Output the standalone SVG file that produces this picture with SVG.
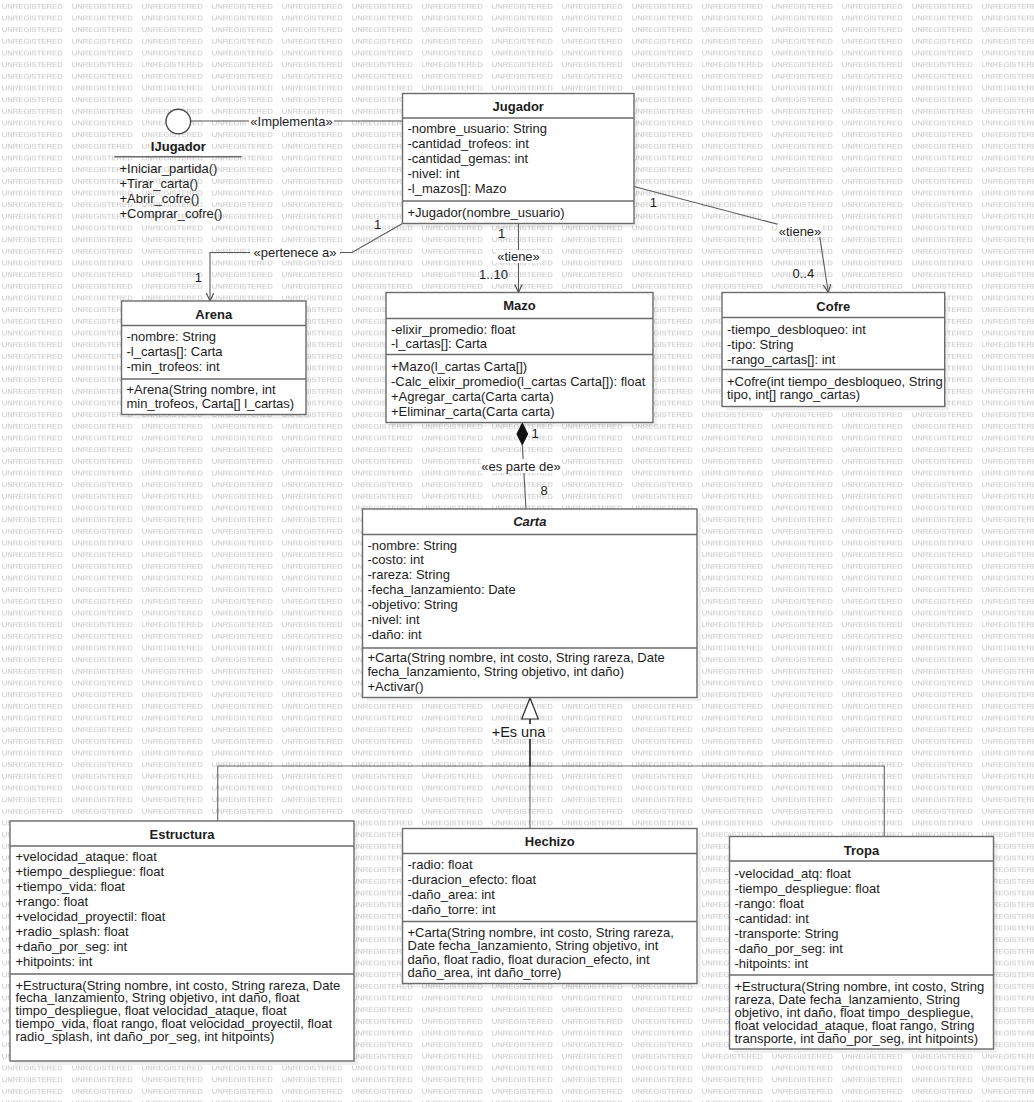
<svg xmlns="http://www.w3.org/2000/svg" width="1034" height="1102" viewBox="0 0 1034 1102">
  <style>
    .t { font-family: "Liberation Sans", Arial, sans-serif; font-size: 13px; fill: #1c1c1c; }
    .ttl { font-weight: bold; text-anchor: middle; }
    .ital { font-style: italic; }
    .mid { text-anchor: middle; }
    .box { fill: #ffffff; stroke: #6b6b6b; stroke-width: 1.4; }
    .shadow { fill: #000000; opacity: 0.06; }
    .sep { stroke: #6b6b6b; stroke-width: 1.4; }
    .wire { fill: none; stroke: #5a5a5a; stroke-width: 1.1; }
    .gen { fill: none; stroke: rgba(0,0,0,0.55); stroke-width: 1.2; }
    .bg { fill: #ffffff; }
    .wm { font-family: "Liberation Sans", Arial, sans-serif; font-size: 7.4px; fill: #c4c4c4; }
  </style>
  <defs>
    <pattern id="wmTile" x="0" y="0" width="70" height="11.667" patternUnits="userSpaceOnUse">
      <text class="wm" x="1.7" y="9.1" textLength="61" lengthAdjust="spacingAndGlyphs">UNREGISTERED</text>
    </pattern>
    <marker id="open" markerWidth="12" markerHeight="12" refX="8.5" refY="4" orient="auto" markerUnits="userSpaceOnUse">
      <path d="M0.5,0.3 L8.5,4 L0.5,7.7" fill="none" stroke="#4a4a4a" stroke-width="1.1"/>
    </marker>
  </defs>

  <!-- background -->
  <rect x="0" y="0" width="1034" height="1102" fill="#ffffff"/>
  <rect x="0" y="0" width="1034" height="1102" fill="url(#wmTile)"/>

  <!-- connectors -->
  <g id="connectors">
    <!-- realization IJugador - Jugador -->
    <line class="wire" x1="190.6" y1="121" x2="402.5" y2="121"/>
    <rect class="bg" x="249" y="114" width="85" height="14"/>
    <text class="t mid" x="291.5" y="125.5">«Implementa»</text>

    <!-- Jugador -> Arena -->
    <polyline class="wire" points="402.5,223.5 352,252.5 210,252.5 210,301" marker-end="url(#open)"/>
    <rect class="bg" x="250" y="245" width="90" height="14"/>
    <text class="t mid" x="295" y="256.5">«pertenece a»</text>
    <text class="t mid" x="377.7" y="229">1</text>
    <text class="t mid" x="198.3" y="282">1</text>

    <!-- Jugador -> Mazo -->
    <line class="wire" x1="518.5" y1="223.5" x2="518.5" y2="292.5" marker-end="url(#open)"/>
    <text class="t mid" x="501.7" y="238">1</text>
    <rect class="bg" x="496" y="250" width="45" height="13"/>
    <text class="t mid" x="518.5" y="261">«tiene»</text>
    <text class="t mid" x="493.5" y="279">1..10</text>

    <!-- Jugador -> Cofre -->
    <polyline class="wire" points="634,186.5 819.5,235.3 828.3,292.5" marker-end="url(#open)"/>
    <rect class="bg" x="777.5" y="224" width="45" height="13"/>
    <text class="t mid" x="800" y="235.5">«tiene»</text>
    <text class="t mid" x="653.3" y="206.5">1</text>
    <text class="t mid" x="803.3" y="278">0..4</text>

    <!-- Mazo composition of Carta -->
    <line class="wire" x1="522.3" y1="445" x2="526" y2="509"/>
    <path d="M522.3,423 L527.8,434 L522.3,445 L516.8,434 Z" fill="#111111" stroke="#111111" stroke-width="0.8"/>
    <text class="t mid" x="535" y="437.5">1</text>
    <rect class="bg" x="481" y="459" width="80" height="14"/>
    <text class="t mid" x="521" y="470.5">«es parte de»</text>
    <text class="t mid" x="544" y="494.5">8</text>

    <!-- generalizations to Carta -->
    <path class="gen" d="M530,719 V766 H217.7 V821"/>
    <path class="gen" d="M530,719 V828.5"/>
    <path class="gen" d="M530,719 V766 H884.3 V836.5"/>
    <polygon points="530,698 538.3,719 521.7,719" fill="#ffffff" stroke="#2a2a2a" stroke-width="1.2"/>
    <rect class="bg" x="490" y="724" width="57" height="15"/>
    <text class="t mid" x="518.5" y="737" style="font-size:14.5px">+Es una</text>
  </g>

  <!-- interface IJugador -->
  <g id="IJugador">
    <circle cx="178.3" cy="121.5" r="12.3" fill="#ffffff" stroke="#4a4a4a" stroke-width="1.4"/>
    <text class="t ttl" x="178.3" y="150.5">IJugador</text>
    <line class="sep" x1="114.3" y1="156.7" x2="241.7" y2="156.7"/>
    <text class="t" x="119.5" y="172.8">+Iniciar_partida()</text>
    <text class="t" x="119.5" y="188">+Tirar_carta()</text>
    <text class="t" x="119.5" y="203">+Abrir_cofre()</text>
    <text class="t" x="119.5" y="218">+Comprar_cofre()</text>
  </g>

  <!-- class Jugador -->
  <g id="Jugador">
    <rect class="shadow" x="406.5" y="97.5" width="231.5" height="130"/>
    <rect class="box" x="402.5" y="93.5" width="231.5" height="130"/>
    <line class="sep" x1="402.5" y1="118" x2="634" y2="118"/>
    <line class="sep" x1="402.5" y1="201" x2="634" y2="201"/>
    <text class="t ttl" x="518.25" y="110.5">Jugador</text>
    <text class="t" x="407.5" y="133">-nombre_usuario: String</text>
    <text class="t" x="407.5" y="148">-cantidad_trofeos: int</text>
    <text class="t" x="407.5" y="163">-cantidad_gemas: int</text>
    <text class="t" x="407.5" y="178">-nivel: int</text>
    <text class="t" x="407.5" y="193">-l_mazos[]: Mazo</text>
    <text class="t" x="407.5" y="217">+Jugador(nombre_usuario)</text>
  </g>

  <!-- class Arena -->
  <g id="Arena">
    <rect class="shadow" x="125.5" y="305" width="184.5" height="113.5"/>
    <rect class="box" x="121.5" y="301" width="184.5" height="113.5"/>
    <line class="sep" x1="121.5" y1="325.5" x2="306" y2="325.5"/>
    <line class="sep" x1="121.5" y1="379" x2="306" y2="379"/>
    <text class="t ttl" x="213.75" y="318.5">Arena</text>
    <text class="t" x="126.5" y="341">-nombre: String</text>
    <text class="t" x="126.5" y="356">-l_cartas[]: Carta</text>
    <text class="t" x="126.5" y="371">-min_trofeos: int</text>
    <text class="t" x="126.5" y="394">+Arena(String nombre, int</text>
    <text class="t" x="126.5" y="407.5">min_trofeos, Carta[] l_cartas)</text>
  </g>

  <!-- class Mazo -->
  <g id="Mazo">
    <rect class="shadow" x="390" y="296.5" width="267" height="130"/>
    <rect class="box" x="386" y="292.5" width="267" height="130"/>
    <line class="sep" x1="386" y1="318.5" x2="653" y2="318.5"/>
    <line class="sep" x1="386" y1="354.5" x2="653" y2="354.5"/>
    <text class="t ttl" x="519.5" y="310">Mazo</text>
    <text class="t" x="391" y="333.5">-elixir_promedio: float</text>
    <text class="t" x="391" y="348">-l_cartas[]: Carta</text>
    <text class="t" x="391" y="371">+Mazo(l_cartas Carta[])</text>
    <text class="t" x="391" y="386">-Calc_elixir_promedio(l_cartas Carta[]): float</text>
    <text class="t" x="391" y="401">+Agregar_carta(Carta carta)</text>
    <text class="t" x="391" y="415.5">+Eliminar_carta(Carta carta)</text>
  </g>

  <!-- class Cofre -->
  <g id="Cofre">
    <rect class="shadow" x="726" y="296.5" width="222.7" height="114"/>
    <rect class="box" x="722" y="292.5" width="222.7" height="114"/>
    <line class="sep" x1="722" y1="317.5" x2="944.7" y2="317.5"/>
    <line class="sep" x1="722" y1="369.5" x2="944.7" y2="369.5"/>
    <text class="t ttl" x="833.3" y="310.5">Cofre</text>
    <text class="t" x="727" y="333.5">-tiempo_desbloqueo: int</text>
    <text class="t" x="727" y="348.5">-tipo: String</text>
    <text class="t" x="727" y="363.5">-rango_cartas[]: int</text>
    <text class="t" x="727" y="385.5">+Cofre(int tiempo_desbloqueo, String</text>
    <text class="t" x="727" y="399">tipo, int[] rango_cartas)</text>
  </g>

  <!-- abstract class Carta -->
  <g id="Carta">
    <rect class="shadow" x="366.5" y="513" width="334.5" height="188.5"/>
    <rect class="box" x="362.5" y="509" width="334.5" height="188.5"/>
    <line class="sep" x1="362.5" y1="534.5" x2="697" y2="534.5"/>
    <line class="sep" x1="362.5" y1="648" x2="697" y2="648"/>
    <text class="t ttl ital" x="529.75" y="526">Carta</text>
    <text class="t" x="367.5" y="549.5">-nombre: String</text>
    <text class="t" x="367.5" y="564.4">-costo: int</text>
    <text class="t" x="367.5" y="579.3">-rareza: String</text>
    <text class="t" x="367.5" y="594.2">-fecha_lanzamiento: Date</text>
    <text class="t" x="367.5" y="609.1">-objetivo: String</text>
    <text class="t" x="367.5" y="624">-nivel: int</text>
    <text class="t" x="367.5" y="638.9">-daño: int</text>
    <text class="t" x="367.5" y="662">+Carta(String nombre, int costo, String rareza, Date</text>
    <text class="t" x="367.5" y="676">fecha_lanzamiento, String objetivo, int daño)</text>
    <text class="t" x="367.5" y="690.5">+Activar()</text>
  </g>

  <!-- class Estructura -->
  <g id="Estructura">
    <rect class="shadow" x="14" y="825" width="344" height="240"/>
    <rect class="box" x="10" y="821" width="344" height="240"/>
    <line class="sep" x1="10" y1="846" x2="354" y2="846"/>
    <line class="sep" x1="10" y1="974" x2="354" y2="974"/>
    <text class="t ttl" x="182" y="838.5">Estructura</text>
    <text class="t" x="15.5" y="861">+velocidad_ataque: float</text>
    <text class="t" x="15.5" y="876">+tiempo_despliegue: float</text>
    <text class="t" x="15.5" y="891">+tiempo_vida: float</text>
    <text class="t" x="15.5" y="906">+rango: float</text>
    <text class="t" x="15.5" y="921">+velocidad_proyectil: float</text>
    <text class="t" x="15.5" y="936">+radio_splash: float</text>
    <text class="t" x="15.5" y="951">+daño_por_seg: int</text>
    <text class="t" x="15.5" y="966">+hitpoints: int</text>
    <text class="t" x="15.5" y="989.5">+Estructura(String nombre, int costo, String rareza, Date</text>
    <text class="t" x="15.5" y="1002.3">fecha_lanzamiento, String objetivo, int daño, float</text>
    <text class="t" x="15.5" y="1015.1">timpo_despliegue, float velocidad_ataque, float</text>
    <text class="t" x="15.5" y="1027.9">tiempo_vida, float rango, float velocidad_proyectil, float</text>
    <text class="t" x="15.5" y="1040.7">radio_splash, int daño_por_seg, int hitpoints)</text>
  </g>

  <!-- class Hechizo -->
  <g id="Hechizo">
    <rect class="shadow" x="406.5" y="832.5" width="294.5" height="155"/>
    <rect class="box" x="402.5" y="828.5" width="294.5" height="155"/>
    <line class="sep" x1="402.5" y1="853.5" x2="697" y2="853.5"/>
    <line class="sep" x1="402.5" y1="921.5" x2="697" y2="921.5"/>
    <text class="t ttl" x="549.75" y="845.5">Hechizo</text>
    <text class="t" x="407.5" y="869">-radio: float</text>
    <text class="t" x="407.5" y="884">-duracion_efecto: float</text>
    <text class="t" x="407.5" y="899">-daño_area: int</text>
    <text class="t" x="407.5" y="914">-daño_torre: int</text>
    <text class="t" x="407.5" y="937">+Carta(String nombre, int costo, String rareza,</text>
    <text class="t" x="407.5" y="950.3">Date fecha_lanzamiento, String objetivo, int</text>
    <text class="t" x="407.5" y="963.6">daño, float radio, float duracion_efecto, int</text>
    <text class="t" x="407.5" y="976.9">daño_area, int daño_torre)</text>
  </g>

  <!-- class Tropa -->
  <g id="Tropa">
    <rect class="shadow" x="733.5" y="840.5" width="264" height="212.5"/>
    <rect class="box" x="729.5" y="836.5" width="264" height="212.5"/>
    <line class="sep" x1="729.5" y1="861" x2="993.5" y2="861"/>
    <line class="sep" x1="729.5" y1="975" x2="993.5" y2="975"/>
    <text class="t ttl" x="861.5" y="854.5">Tropa</text>
    <text class="t" x="734.5" y="877.8">-velocidad_atq: float</text>
    <text class="t" x="734.5" y="892.8">-tiempo_despliegue: float</text>
    <text class="t" x="734.5" y="907.8">-rango: float</text>
    <text class="t" x="734.5" y="922.8">-cantidad: int</text>
    <text class="t" x="734.5" y="937.8">-transporte: String</text>
    <text class="t" x="734.5" y="952.8">-daño_por_seg: int</text>
    <text class="t" x="734.5" y="967.8">-hitpoints: int</text>
    <text class="t" x="734.5" y="990.5">+Estructura(String nombre, int costo, String</text>
    <text class="t" x="734.5" y="1003.7">rareza, Date fecha_lanzamiento, String</text>
    <text class="t" x="734.5" y="1016.9">objetivo, int daño, float timpo_despliegue,</text>
    <text class="t" x="734.5" y="1030.1">float velocidad_ataque, float rango, String</text>
    <text class="t" x="734.5" y="1043.3">transporte, int daño_por_seg, int hitpoints)</text>
  </g>
</svg>
